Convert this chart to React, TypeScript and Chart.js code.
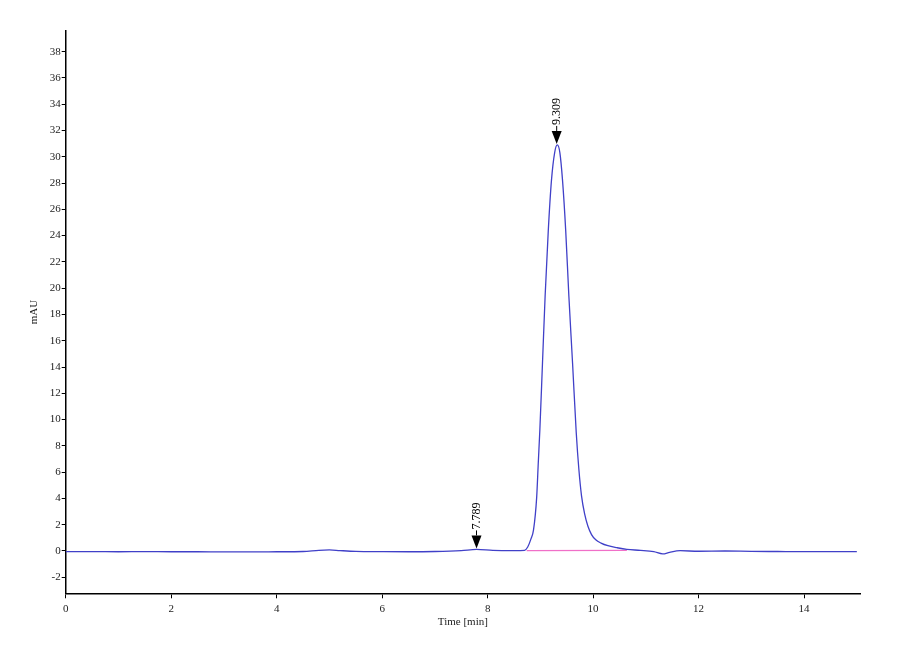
import React, { useEffect, useRef } from 'react';
import { Chart, registerables, ChartConfiguration, Plugin } from 'chart.js';

Chart.register(...registerables);

// Chromatogram trace (time in min, signal in mAU)
const timeValues = [
  0, 0.5, 1, 1.5, 2, 2.5, 3, 3.5, 4, 4.5, 4.8, 5.0, 5.2, 5.5, 6, 6.5, 7, 7.5, 7.79, 8.1,
  8.5, 8.7, 8.76, 8.82, 8.87, 8.93, 8.96, 8.99, 9.04, 9.09, 9.15, 9.21, 9.27, 9.32, 9.37,
  9.42, 9.48, 9.54, 9.61, 9.68, 9.73, 9.78, 9.84, 9.9, 9.97, 10.05, 10.15, 10.28, 10.45,
  10.64, 10.9, 11.15, 11.32, 11.45, 11.65, 12, 12.5, 13, 13.5, 14, 14.5, 15,
];
const signalValues = [
  -0.05, -0.05, -0.06, -0.05, -0.06, -0.06, -0.07, -0.07, -0.06, -0.04, 0.05, 0.08, 0.03,
  -0.03, -0.05, -0.06, -0.04, 0.03, 0.12, 0.04, 0.02, 0.05, 0.3, 0.9, 1.6, 4.1, 6.7, 9.2,
  14.3, 19.4, 24.4, 28.2, 30.3, 30.9, 30.3, 28.2, 24.4, 19.4, 14.3, 9.0, 6.2, 4.2, 2.8, 1.9,
  1.25, 0.85, 0.6, 0.4, 0.25, 0.12, 0.05, -0.05, -0.22, -0.1, 0.02, -0.02, 0.0, -0.03, -0.04,
  -0.05, -0.05, -0.05,
];

// integration baseline under the main peak
const baselineTimes = [8.74, 10.64];
const baselineValues = [0.02, 0.05];

// peak markers
const peakTimes = [7.789, 9.309];
const peakHeights = [0.12, 30.9];
const peakLabels = ['7.789', '9.309'];

const xTicks = [0, 2, 4, 6, 8, 10, 12, 14];
const yTicks = [-2, 0, 2, 4, 6, 8, 10, 12, 14, 16, 18, 20, 22, 24, 26, 28, 30, 32, 34, 36, 38];

const SERIF = "'Liberation Serif', 'Times New Roman', serif";

const peakMarkers: Plugin<'line'> = {
  id: 'peakMarkers',
  afterDatasetsDraw(chart) {
    const { ctx, scales } = chart;
    const xs = scales.x;
    const ys = scales.y;
    peakTimes.forEach((t, i) => {
      const x = xs.getPixelForValue(t);
      const y = ys.getPixelForValue(peakHeights[i]);
      ctx.save();
      // arrow head
      ctx.fillStyle = '#000';
      ctx.beginPath();
      ctx.moveTo(x - 5, y - 14);
      ctx.lineTo(x + 5, y - 14);
      ctx.lineTo(x, y - 1);
      ctx.closePath();
      ctx.fill();
      // stem
      ctx.strokeStyle = '#000';
      ctx.lineWidth = 1;
      ctx.beginPath();
      ctx.moveTo(x, y - 14);
      ctx.lineTo(x, y - 19);
      ctx.stroke();
      // rotated label
      ctx.translate(x, y - 20);
      ctx.rotate(-Math.PI / 2);
      ctx.font = `12px ${SERIF}`;
      ctx.textAlign = 'left';
      ctx.textBaseline = 'middle';
      ctx.fillText(peakLabels[i], 0, 0);
      ctx.restore();
    });
  },
};

export default function App() {
  const canvasRef = useRef<HTMLCanvasElement>(null);
  const chartRef = useRef<Chart<'line'> | null>(null);

  useEffect(() => {
    if (!canvasRef.current) return;
    if (chartRef.current) chartRef.current.destroy();

    Chart.defaults.font.family = SERIF;

    const config: ChartConfiguration<'line'> = {
      type: 'line',
      data: {
        datasets: [
          {
            label: 'Signal',
            data: timeValues.map((t, i) => ({ x: t, y: signalValues[i] })),
            borderColor: '#4040c8',
            borderWidth: 1.3,
            pointRadius: 0,
            cubicInterpolationMode: 'monotone',
            fill: false,
          },
          {
            label: 'Baseline',
            data: baselineTimes.map((t, i) => ({ x: t, y: baselineValues[i] })),
            borderColor: '#f070c8',
            borderWidth: 1.3,
            pointRadius: 0,
            fill: false,
          },
        ],
      },
      options: {
        responsive: false,
        animation: false,
        layout: { padding: { top: 31, right: 40, bottom: 0, left: 0 } },
        plugins: {
          legend: { display: false },
          tooltip: { enabled: false },
        },
        scales: {
          x: {
            type: 'linear',
            min: 0,
            max: 15.06,
            afterFit: (scale) => {
              scale.height = 66.7;
            },
            afterBuildTicks: (scale) => {
              scale.ticks = xTicks.map((v) => ({ value: v }));
            },
            border: { display: true, color: '#000', width: 1.5 },
            grid: { drawOnChartArea: false, drawTicks: true, tickLength: 5, color: '#000' },
            ticks: {
              color: '#222',
              font: { size: 11, family: SERIF },
              padding: 4,
              maxRotation: 0,
              autoSkip: false,
            },
            title: {
              display: true,
              text: 'Time [min]',
              color: '#222',
              font: { size: 11, family: SERIF },
              padding: { top: 0, bottom: 31 },
            },
          },
          y: {
            type: 'linear',
            min: -3.22,
            max: 39.57,
            afterFit: (scale) => {
              scale.width = 65.7;
            },
            afterBuildTicks: (scale) => {
              scale.ticks = yTicks.map((v) => ({ value: v }));
            },
            border: { display: true, color: '#000', width: 1.5 },
            grid: { drawOnChartArea: false, drawTicks: true, tickLength: 4, color: '#000' },
            ticks: {
              color: '#222',
              font: { size: 11, family: SERIF },
              padding: 1,
              autoSkip: false,
            },
            title: {
              display: true,
              text: 'mAU',
              color: '#222',
              font: { size: 11, family: SERIF },
              padding: { top: 28, bottom: 0 },
            },
          },
        },
      },
      plugins: [peakMarkers],
    };

    chartRef.current = new Chart(canvasRef.current, config);

    return () => {
      if (chartRef.current) {
        chartRef.current.destroy();
        chartRef.current = null;
      }
    };
  }, []);

  return (
    <div style={{ position: 'absolute', top: 0, left: 0, width: 900, height: 660, background: '#fff' }}>
      <canvas ref={canvasRef} width={900} height={660} />
    </div>
  );
}
